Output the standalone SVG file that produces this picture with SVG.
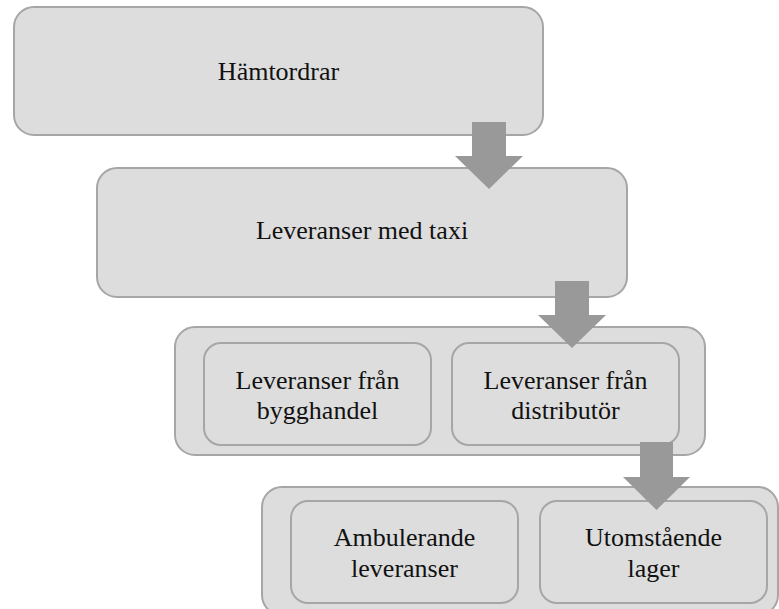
<svg xmlns="http://www.w3.org/2000/svg" width="779" height="609" viewBox="0 0 779 609">
  <style>
    .box { fill: #dddddd; stroke: #a6a6a6; stroke-width: 2; }
    .arrow { fill: #999999; }
    text { font-family: "Liberation Serif", "Times New Roman", serif; font-size: 26px; fill: #111111; text-anchor: middle; }
  </style>
  <rect width="779" height="609" fill="#ffffff"/>

  <g id="hamtordrar">
    <rect class="box" x="14" y="7" width="529" height="128" rx="20"/>
    <text x="278.5" y="80">Hämtordrar</text>
  </g>

  <g id="leveranser-taxi">
    <rect class="box" x="97" y="168" width="530" height="129" rx="20"/>
    <text x="362" y="239">Leveranser med taxi</text>
  </g>

  <g id="grupp-leveranser">
    <rect class="box" x="175" y="327" width="530" height="128" rx="20"/>
  </g>
  <g id="bygghandel">
    <rect class="box" x="204" y="343" width="227" height="102" rx="17"/>
    <text x="317.5" y="389">Leveranser från</text>
    <text x="317.5" y="419">bygghandel</text>
  </g>

  <g id="grupp-lager">
    <rect class="box" x="262" y="487" width="516" height="128" rx="20"/>
  </g>
  <g id="ambulerande">
    <rect class="box" x="291" y="501" width="227" height="102" rx="17"/>
    <text x="404.5" y="546">Ambulerande</text>
    <text x="404.5" y="577">leveranser</text>
  </g>
  <g id="utomstaende">
    <rect class="box" x="540" y="501" width="227" height="102" rx="17"/>
    <text x="653.5" y="546">Utomstående</text>
    <text x="653.5" y="577">lager</text>
  </g>

  <g id="distributor">
    <rect class="box" x="452" y="343" width="227" height="102" rx="17"/>
    <text x="565.5" y="389">Leveranser från</text>
    <text x="565.5" y="419">distributör</text>
  </g>

  <g id="connectors">
    <polygon class="arrow" points="472,122 506,122 506,156 523,156 489,189 455,156 472,156"/>
    <polygon class="arrow" points="555,281 589,281 589,315 606,315 572,348 538,315 555,315"/>
    <polygon class="arrow" points="640,442 673,442 673,477 690,477 656.5,510 623,477 640,477"/>
  </g>
</svg>
